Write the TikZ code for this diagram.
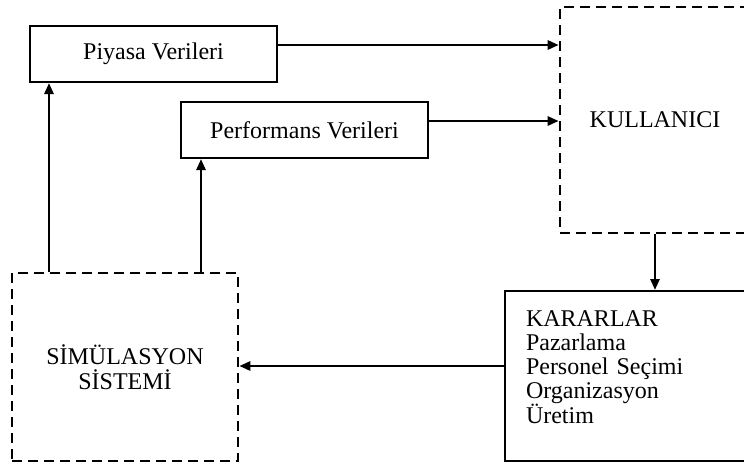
\documentclass[tikz,border=0pt]{standalone}
\usepackage{fontspec}
\setmainfont{Liberation Serif}
\usetikzlibrary{arrows.meta, positioning, calc}

\begin{document}
\begin{tikzpicture}[x=1pt, y=-1pt,
    databox/.style={rectangle, draw, line width=2pt, minimum width=247pt, minimum height=56pt, font=\fontsize{24}{24}\selectfont},
    unitbox/.style={rectangle, draw, dash pattern=on 10pt off 6pt, line width=2.6pt, font=\fontsize{24}{25.5}\selectfont},
    flow/.style={-{Triangle[length=11pt,width=9pt]}, line width=2.6pt}
]
    \useasboundingbox (0,0) rectangle (744,463);
    \clip (0,0) rectangle (744,463);

    % data boxes
    \node[databox] (piyasa) at (153.5,54) {Piyasa Verileri};
    \node[databox] (perf) at (304.5,130) {Performans Verileri};

    % dashed units
    \node[unitbox, minimum width=190pt, minimum height=226pt] (kullanici) at (655,120) {KULLANICI};
    \node[unitbox, minimum width=226pt, minimum height=188pt, align=center] (sim) at (125,367) {SİMÜLASYON\\SİSTEMİ};

    % decisions
    \node[databox, anchor=north west, minimum width=250pt, minimum height=170pt, text width=210pt, inner xsep=21pt, align=left] (karar) at (504,290)
        {KARARLAR\\Pazarlama\\Personel Seçimi\\Organizasyon\\Üretim\rule[-18pt]{0pt}{0pt}};

    % flows
    \draw[flow] ([yshift=9pt]piyasa.east) -- ([yshift=9pt]piyasa.east -| kullanici.west);
    \draw[flow] ([yshift=9pt]perf.east) -- ([yshift=9pt]perf.east -| kullanici.west);
    \draw[flow] (kullanici.south) -- (kullanici.south |- karar.north);
    \draw[flow] ([yshift=10pt]karar.west) -- ([yshift=10pt]karar.west -| sim.east);
    \draw[flow] ([xshift=-76pt]sim.north) -- ([xshift=-76pt]sim.north |- piyasa.south);
    \draw[flow] ([xshift=76pt]sim.north) -- ([xshift=76pt]sim.north |- perf.south);
\end{tikzpicture}
\end{document}
